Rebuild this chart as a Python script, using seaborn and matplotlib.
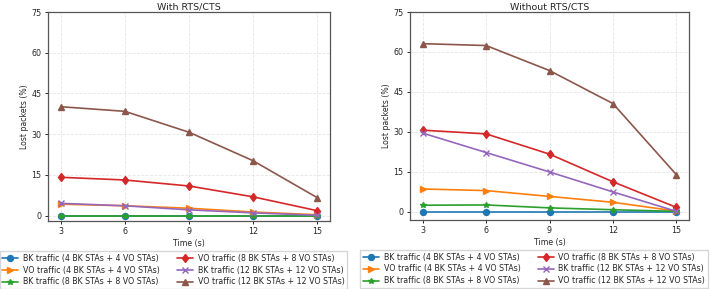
import pandas as pd
import matplotlib
matplotlib.use('Agg')
import matplotlib.pyplot as plt
import seaborn as sns

# 시간 (s)
time_s = [3, 6, 9, 12, 15]

labels = [
    'BK traffic (4 BK STAs + 4 VO STAs)',
    'VO traffic (4 BK STAs + 4 VO STAs)',
    'BK traffic (8 BK STAs + 8 VO STAs)',
    'VO traffic (8 BK STAs + 8 VO STAs)',
    'BK traffic (12 BK STAs + 12 VO STAs)',
    'VO traffic (12 BK STAs + 12 VO STAs)',
]
markers = ['o', '>', '*', 'd', 'x', '^']

# With RTS/CTS
with_bk_4 = [0.0, 0.0, 0.0, 0.0, 0.0]
with_vo_4 = [4.2, 3.6, 2.7, 1.3, 0.3]
with_bk_8 = [0.0, 0.0, 0.0, 0.0, 0.0]
with_vo_8 = [14.1, 13.1, 10.9, 6.9, 1.8]
with_bk_12 = [4.5, 3.6, 2.1, 1.0, 0.1]
with_vo_12 = [40.1, 38.4, 30.7, 20.2, 6.6]

# Without RTS/CTS
without_bk_4 = [0.0, 0.0, 0.0, 0.0, 0.0]
without_vo_4 = [8.5, 7.9, 5.7, 3.5, 0.2]
without_bk_8 = [2.4, 2.5, 1.4, 0.7, 0.1]
without_vo_8 = [30.6, 29.2, 21.6, 11.2, 1.6]
without_bk_12 = [29.5, 22.2, 14.9, 7.4, 0.1]
without_vo_12 = [63.1, 62.4, 53.0, 40.6, 13.9]

panels = {
    'With RTS/CTS': [with_bk_4, with_vo_4, with_bk_8, with_vo_8, with_bk_12, with_vo_12],
    'Without RTS/CTS': [without_bk_4, without_vo_4, without_bk_8, without_vo_8, without_bk_12, without_vo_12],
}

sns.set_style('ticks')
plt.rcParams['font.family'] = ['DejaVu Sans']
palette = sns.color_palette('tab10', 6)

fig = plt.figure(figsize=(7.11, 2.89), dpi=100)
W, H = 711, 289
boxes = [(48, 12, 330, 221), (410, 12, 689, 220)]

for (title, series), (x0, y0, x1, y1) in zip(panels.items(), boxes):
    ax = fig.add_axes([x0 / W, 1 - y1 / H, (x1 - x0) / W, (y1 - y0) / H])
    for i, vals in enumerate(series):
        df = pd.DataFrame({'Time (s)': time_s, 'Lost': vals})
        sns.lineplot(data=df, x='Time (s)', y='Lost', ax=ax, color=palette[i],
                     marker=markers[i], markersize=4.3, markeredgecolor=palette[i],
                     markeredgewidth=1, linewidth=1.2, label=labels[i])
    ax.set_ylim(top=75)
    ax.set_xticks(time_s)
    ax.set_yticks([0, 15, 30, 45, 60, 75])
    ax.tick_params(labelsize=5.8, length=2.5, width=0.7, pad=2)
    ax.set_title(title, fontsize=6.8, pad=2)
    ax.set_xlabel('Time (s)', fontsize=5.6, labelpad=2)
    ax.set_ylabel('Lost packets (%)', fontsize=5.6, labelpad=2)
    ax.grid(True, linestyle='--', linewidth=0.6, alpha=0.5)
    for s in ax.spines.values():
        s.set_color('#555555')
        s.set_linewidth(0.9)
    ax.legend(loc='upper center', bbox_to_anchor=(0.445, -0.125), ncol=2,
              fontsize=5.7, frameon=True, fancybox=False, edgecolor='#cccccc',
              handlelength=2, handletextpad=0.6, columnspacing=2.2,
              labelspacing=0.35, borderpad=0.35)

fig.savefig('out.png', dpi=100)
